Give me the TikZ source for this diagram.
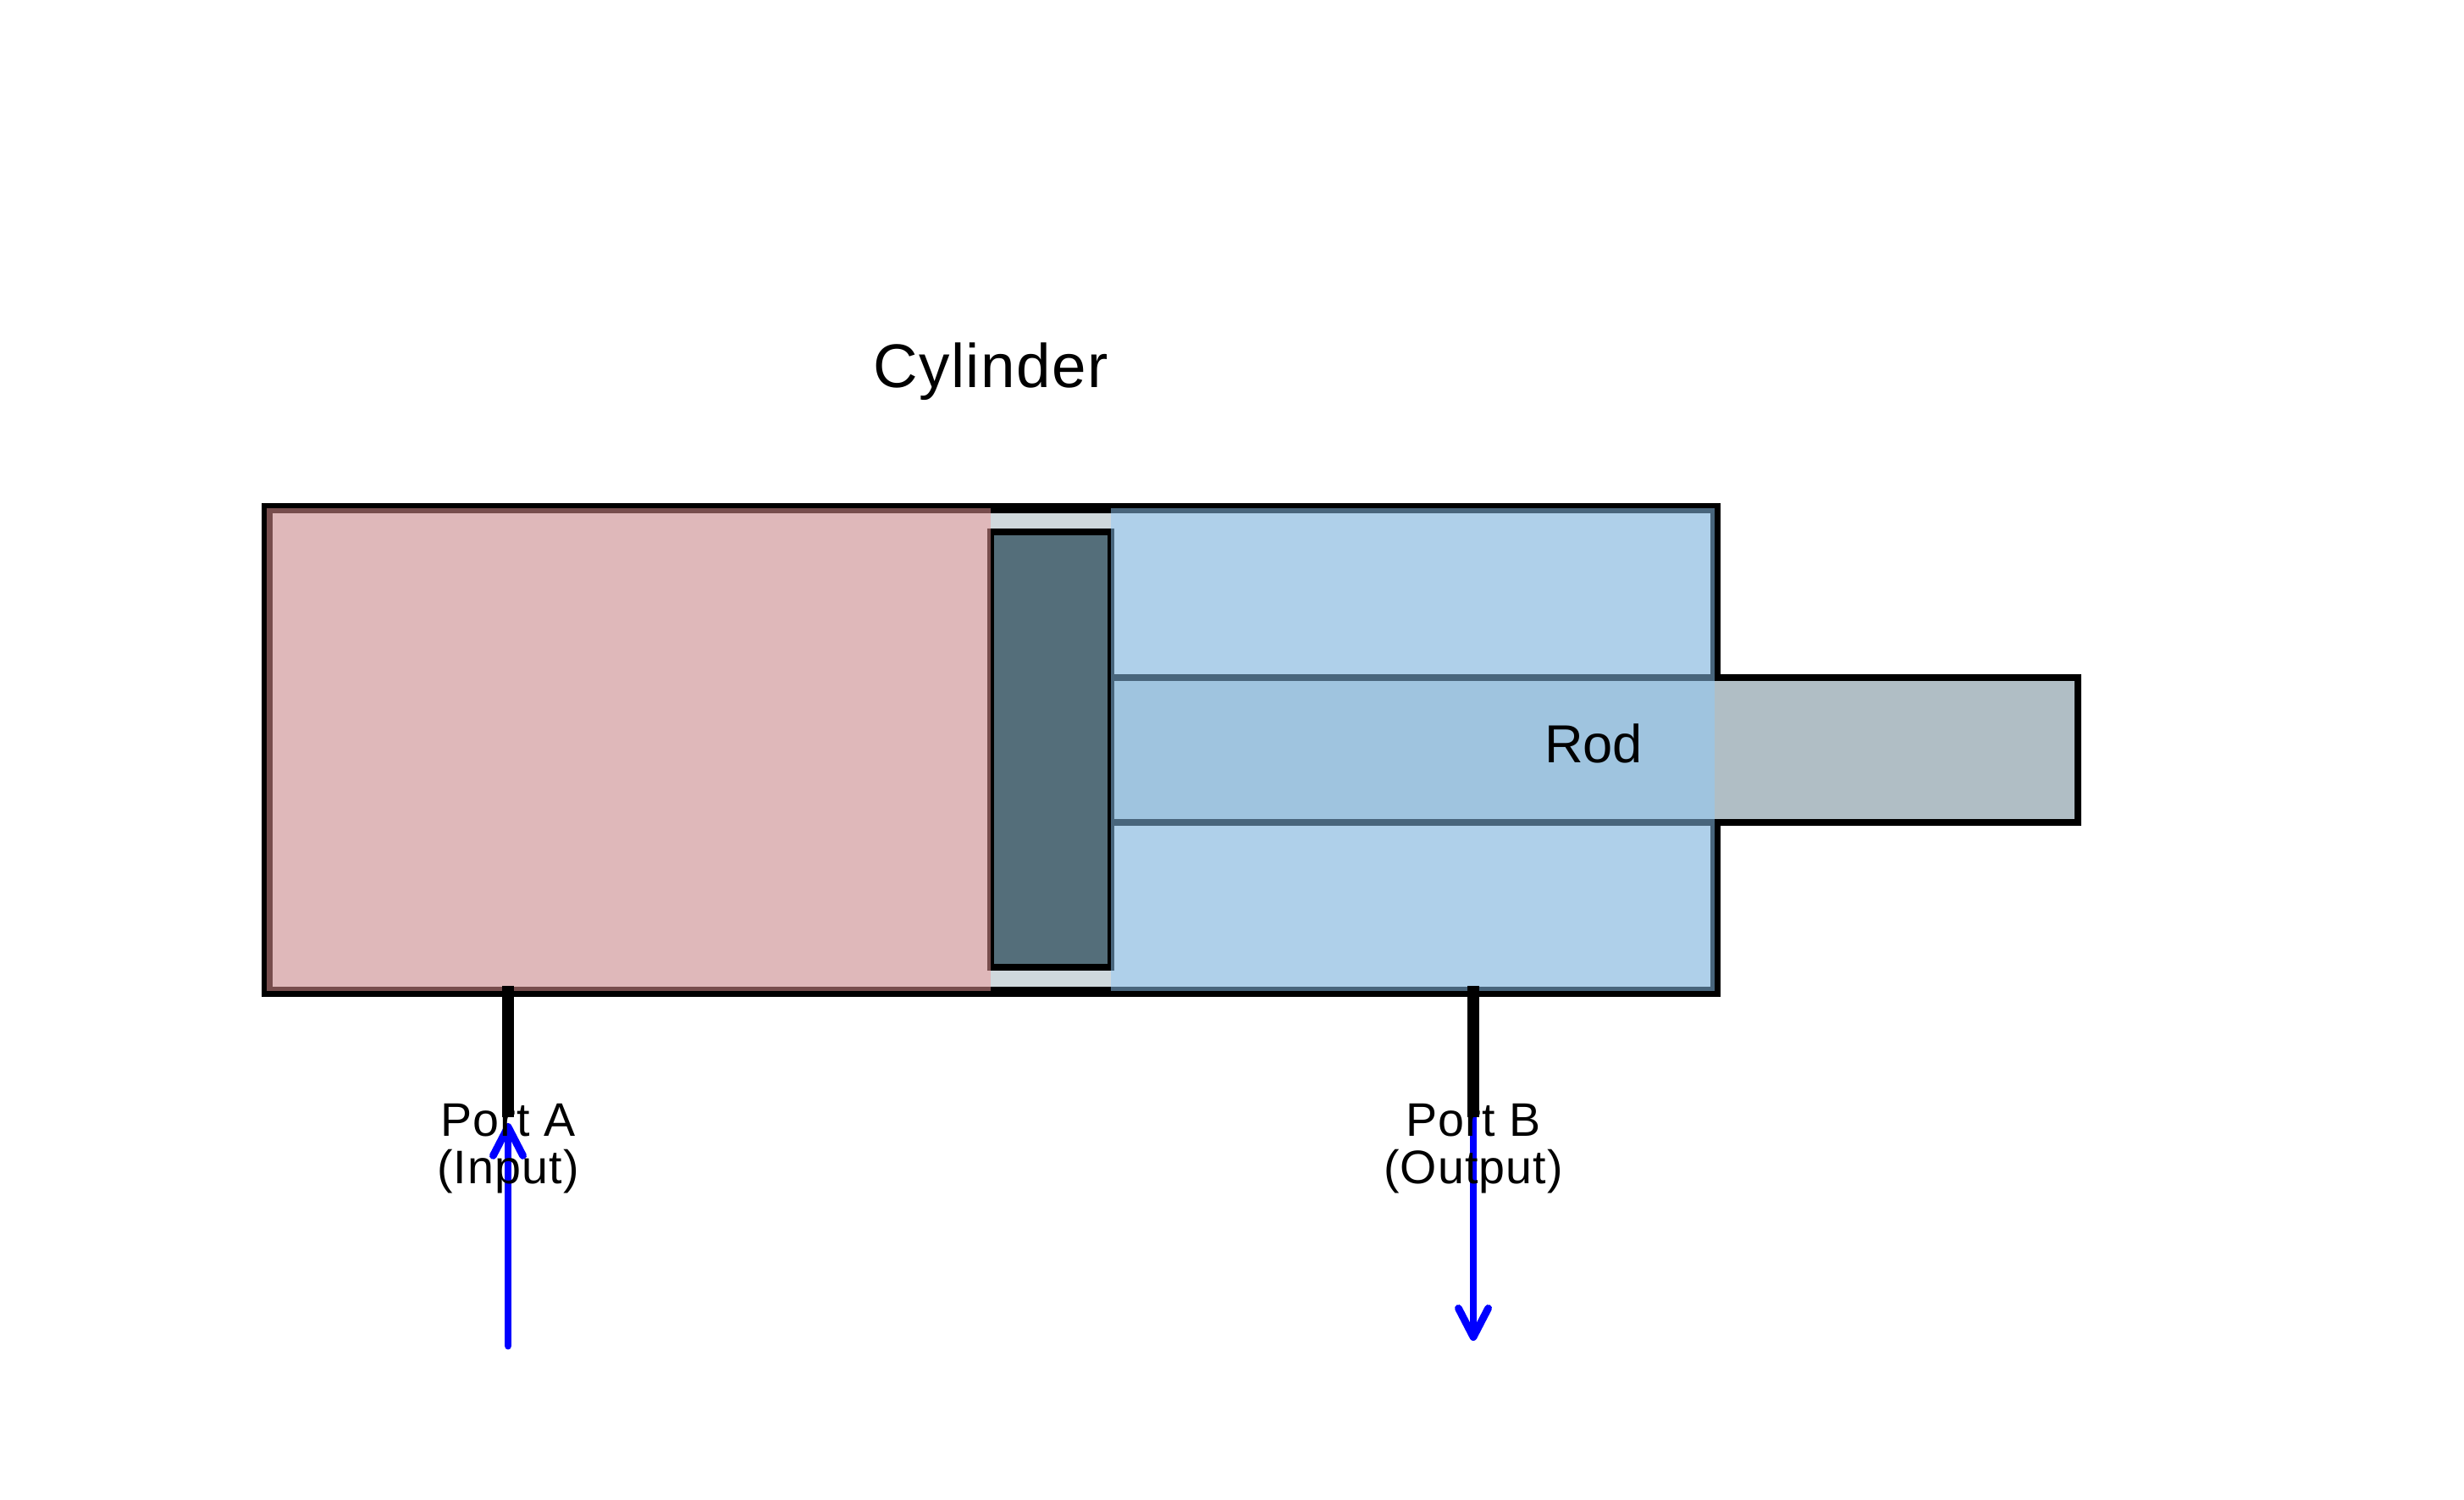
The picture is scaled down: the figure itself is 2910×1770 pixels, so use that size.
\documentclass[tikz,border=0pt]{standalone}
\usepackage{fontspec}
\setmainfont{Liberation Sans}
\newfontfamily\widesans[LetterSpace=2]{Liberation Sans}
\usetikzlibrary{arrows.meta}
\definecolor{cylfill}{HTML}{CFD8DC}
\definecolor{pistonfill}{HTML}{546E7A}
\definecolor{rodfill}{HTML}{B0BEC5}
\definecolor{capfill}{HTML}{EF9A9A}
\definecolor{rodside}{HTML}{90CAF9}
\definecolor{flowblue}{HTML}{0000FF}
\tikzset{
  x=0.25pt, y=-0.25pt,
  cylbody/.style={draw=black, line width=3.2pt, fill=cylfill},
  pistonbody/.style={draw=black, line width=2.1pt, fill=pistonfill},
  rodbody/.style={draw=black, line width=2.2pt, fill=rodfill},
  capchamber/.style={fill=capfill, fill opacity=.5},
  rodchamber/.style={fill=rodside, fill opacity=.5},
  portline/.style={draw=black, line width=3.4pt},
  flow/.style={draw=flowblue, line width=2.2pt, line cap=round, line join=round,
    -{Straight Barb[length=8.5pt, width=8.8pt, round]}},
  labeltext/.style={font=\widesans\fontsize{13.9pt}{13.9pt}\selectfont, inner sep=0pt, align=center, text=black},
  titletext/.style={font=\widesans\fontsize{18.2pt}{20pt}\selectfont, inner sep=0pt, text=black},
  rodtext/.style={font=\fontsize{15.8pt}{18pt}\selectfont, inner sep=0pt, text=black},
}
\begin{document}
\begin{tikzpicture}
\useasboundingbox (0,0) rectangle (2910,1770);
\fill[white] (0,0) rectangle (2910,1770);
\draw[cylbody] (315.3,600) rectangle (2026,1171);
\draw[pistonbody] (1170,628) rectangle (1312,1142);
\draw[rodbody] (1312,800) rectangle (2454,971);
\fill[capchamber] (315.3,600) rectangle (1170,1170);
\fill[rodchamber] (1312,600) rectangle (2025,1170);
\coordinate (portAtop) at (600,1164);
\coordinate (portAend) at (600,1319);
\coordinate (portBtop) at (1740,1164);
\coordinate (portBend) at (1740,1319);
\coordinate (flowAstart) at (600,1589);
\coordinate (flowAtip) at (600,1326);
\coordinate (flowBstart) at (1740,1319);
\coordinate (flowBtip) at (1740,1583);
\draw[flow] (flowAstart) -- (flowAtip);
\draw[flow] (flowBstart) -- (flowBtip);
\draw[portline] (portAtop) -- (portAend);
\draw[portline] (portBtop) -- (portBend);
\node[titletext, anchor=base] (cyl) at (1170,457) {Cylinder};
\node[rodtext, anchor=base] (rod) at (1882,900) {Rod};
\node[labeltext, anchor=base] (pa) at (600,1397) {Port A\\(Input)};
\node[labeltext, anchor=base] (pb) at (1740,1397) {Port B\\(Output)};
\end{tikzpicture}
\end{document}
